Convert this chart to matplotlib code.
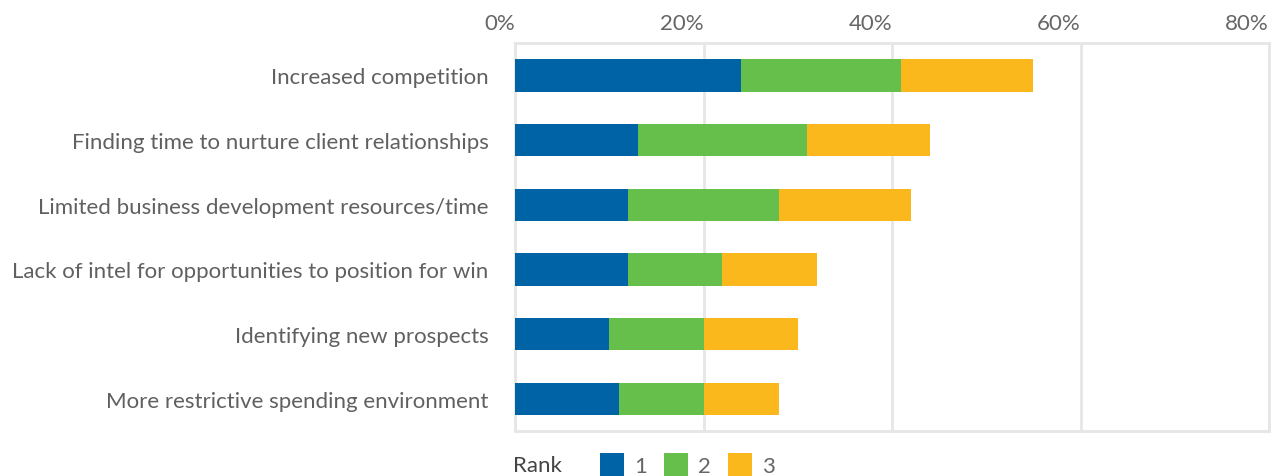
import matplotlib
matplotlib.use("Agg")
import matplotlib.pyplot as plt
from matplotlib.ticker import FuncFormatter

categories = [
    "Increased competition",
    "Finding time to nurture client relationships",
    "Limited business development resources/time",
    "Lack of intel for opportunities to position for win",
    "Identifying new prospects",
    "More restrictive spending environment",
]
rank1 = [24, 13, 12, 12, 10, 11]
rank2 = [17, 18, 16, 10, 10, 9]
rank3 = [14, 13, 14, 10, 10, 8]
ranks = ["1", "2", "3"]
colors = ["#0063A5", "#66BE4B", "#FBB81C"]

plt.rcParams['font.family'] = ['Lato', 'DejaVu Sans']
txt = "#606060"
grid = "#e6e6e6"

fig = plt.figure(figsize=(12.79, 4.77), dpi=100)
ax = fig.add_axes([515/1279, 1-432/477, (1269-515)/1279, (432-44)/477])

y = list(range(len(categories)))
left = [0]*len(categories)
bars = []
for vals, c, lab in zip([rank1, rank2, rank3], colors, ranks):
    b = ax.barh(y, vals, left=left, height=0.5, color=c, label=lab, zorder=3)
    bars.append(b)
    left = [l + v for l, v in zip(left, vals)]

ax.set_xlim(0, 80)
ax.set_ylim(5.5, -0.5)
ax.set_xticks([0, 20, 40, 60, 80])
ax.xaxis.set_major_formatter(FuncFormatter(lambda v, p: f"{v:.0f}%"))
ax.xaxis.tick_top()
ax.tick_params(axis='x', length=0, pad=7, labelsize=16, labelcolor="#666666")
for t in ax.get_xticklabels():
    t.set_horizontalalignment('right')
ax.set_yticks(y)
ax.set_yticklabels(categories)
ax.tick_params(axis='y', length=0, pad=19, labelsize=16, labelcolor=txt)

ax.grid(axis='x', color=grid, linewidth=2, zorder=0)
for s in ax.spines.values():
    s.set_color(grid)
    s.set_linewidth(2)

fig.text(513/1279, 1-466/477, "Rank", fontsize=16, color="#444444", va='center', ha='left')
fig.legend(handles=bars, labels=ranks, loc='center left',
           bbox_to_anchor=(580/1279, 1-466/477), ncol=3, frameon=False,
           handlelength=1.1, handleheight=1.3,
           handletextpad=0.45, columnspacing=0.75, labelcolor="#666666",
           prop={'size': 16})

fig.savefig("out.png", dpi=100)
